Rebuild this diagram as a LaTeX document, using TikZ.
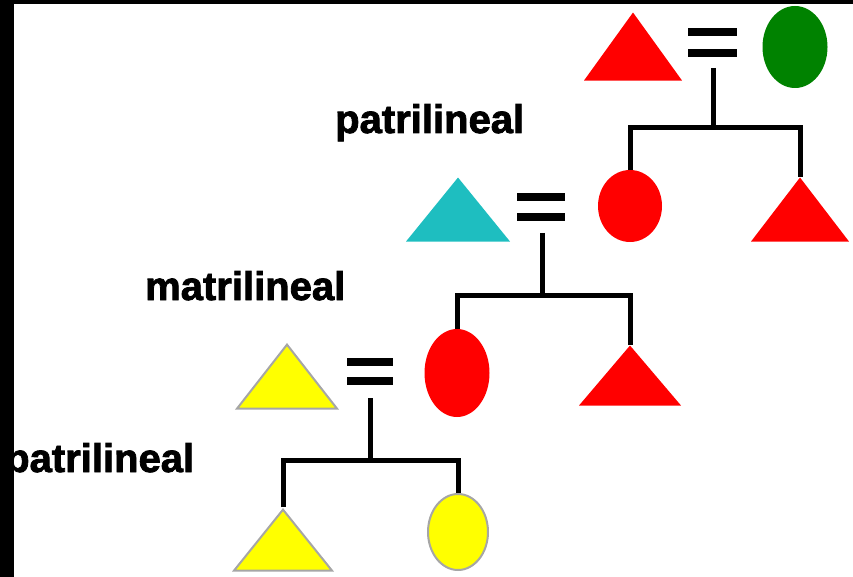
\documentclass[tikz,border=0pt]{standalone}
\usepackage{fontspec}
\setmainfont{Liberation Sans}
\newfontfamily\kinfont[FakeBold=2]{Liberation Sans Bold}
\usetikzlibrary{shapes.geometric}

\definecolor{kinred}{RGB}{255,0,0}
\definecolor{kingreen}{RGB}{0,130,0}
\definecolor{kincyan}{RGB}{30,190,192}
\definecolor{kinyellow}{RGB}{255,255,0}

\tikzset{
    male/.style={isosceles triangle, isosceles triangle stretches,
        shape border rotate=90, inner sep=0pt, anchor=apex,
        minimum width=98pt, minimum height=64pt},
    female/.style={ellipse, inner sep=0pt},
    kin/.style={line width=5pt, black},
    bond/.style={line width=8pt, black},
    kinlabel/.style={anchor=base west, inner sep=0pt,
        font=\fontsize{40}{40}\kinfont},
}

\begin{document}
\begin{tikzpicture}[x=1pt, y=-1pt]
    \useasboundingbox (0,0) rectangle (853,577);

    \node[kinlabel] (t1) at (335,133) {patrilineal};
    \node[kinlabel] (t2) at (145,300) {matrilineal};
    \node[kinlabel] (t3) at (5,472) {patrilineal};

    % first couple and their children
    \node[male, fill=kinred, minimum height=68pt] (m1) at (633,12) {};
    \node[female, fill=kingreen, minimum width=65pt, minimum height=82pt] (f1) at (795,47) {};
    \draw[bond] (688,32) -- (737,32);
    \draw[bond] (688,53) -- (737,53);
    \coordinate (u1) at (713,68);
    \coordinate (c1) at (713,128);

    \node[female, fill=kinred, minimum width=64pt, minimum height=72pt] (f2) at (630,206) {};
    \node[male, fill=kinred] (m2) at (800,177) {};
    \draw[kin] (u1) -- (c1);
    \draw[kin] (f2.north) |- (c1) -| (m2.apex);

    % second couple
    \node[male, fill=kincyan, minimum width=104pt] (m3) at (458,177) {};
    \draw[bond] (517,197) -- (565,197);
    \draw[bond] (517,217) -- (565,217);
    \coordinate (u2) at (542,233);
    \coordinate (c2) at (542,295);

    \node[female, fill=kinred, minimum width=65pt, minimum height=88pt] (f3) at (457,373) {};
    \node[male, fill=kinred, minimum width=102pt, minimum height=60pt] (m4) at (630,345) {};
    \draw[kin] (u2) -- (c2);
    \draw[kin] (f3.north) |- (c2) -| (m4.apex);

    % third couple
    \node[male, fill=kinyellow, draw=gray!70, line width=2pt, minimum width=100pt] (m5) at (287,342) {};
    \draw[bond] (347,362) -- (393,362);
    \draw[bond] (347,381) -- (393,381);
    \coordinate (u3) at (370,398);
    \coordinate (c3) at (370,460);

    \node[male, fill=kinyellow, draw=gray!70, line width=2pt, minimum height=61pt] (m6) at (283,507) {};
    \node[female, fill=kinyellow, draw=gray!70, line width=2pt, minimum width=60pt, minimum height=76pt] (f4) at (458,532) {};
    \draw[kin] (u3) -- (c3);
    \draw[kin] (m6.apex) |- (c3) -| (f4.north);

    % frame edges
    \fill[black] (0,0) rectangle (14,577);
    \fill[black] (0,0) rectangle (853,4);
\end{tikzpicture}
\end{document}
